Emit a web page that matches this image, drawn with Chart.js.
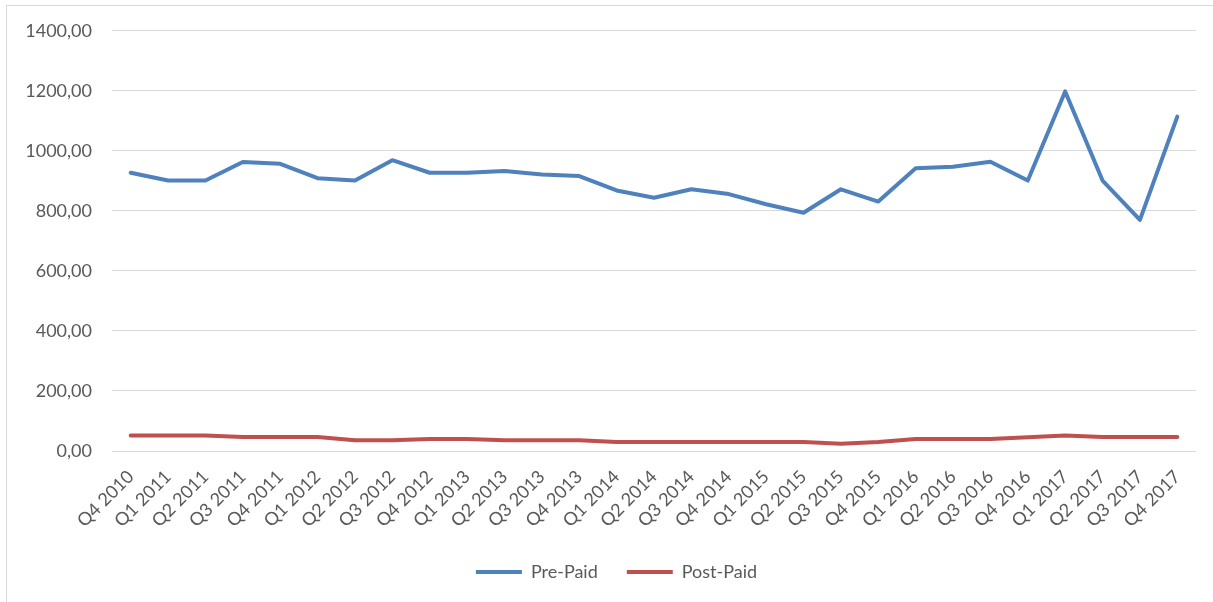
<!DOCTYPE html>
<html>
<head>
<meta charset="utf-8">
<script src="https://cdn.jsdelivr.net/npm/chart.js@4"></script>
<style>
  html, body { margin: 0; padding: 0; background: #ffffff; }
  #wrap { position: relative; width: 1213px; height: 602px; }
  #frame { position: absolute; left: 6px; top: 5px; width: 1220px; height: 610px; border-left: 1px solid #D9D9D9; border-top: 1px solid #D9D9D9; box-sizing: border-box; pointer-events: none; }
  canvas { position: absolute; left: 0; top: 0; }
</style>
</head>
<body>
<div id="wrap">
  <canvas id="c" width="1213" height="602"></canvas>
  <div id="frame"></div>
</div>
<script>
const categories = [
  "Q4 2010","Q1 2011","Q2 2011","Q3 2011","Q4 2011","Q1 2012","Q2 2012","Q3 2012","Q4 2012",
  "Q1 2013","Q2 2013","Q3 2013","Q4 2013","Q1 2014","Q2 2014","Q3 2014","Q4 2014",
  "Q1 2015","Q2 2015","Q3 2015","Q4 2015","Q1 2016","Q2 2016","Q3 2016","Q4 2016",
  "Q1 2017","Q2 2017","Q3 2017","Q4 2017"
];
const prePaid = [
  927, 901, 901, 963, 957, 909, 901, 969, 927,
  927, 933, 921, 916, 868, 844, 872, 856,
  822, 794, 872, 831, 942, 947, 964, 901,
  1198, 901, 770, 1114
];
const postPaid = [
  52, 52, 52, 47, 47, 47, 36, 36, 40,
  40, 36, 36, 36, 30, 30, 30, 30,
  30, 30, 24, 30, 40, 40, 40, 46,
  52, 47, 47, 47
];
const yTicks = [0, 200, 400, 600, 800, 1000, 1200, 1400];

const FONT = "Lato, 'Open Sans', sans-serif";
const TXT = "#595959";

const legendShift = {
  id: 'legendShift',
  afterLayout(chart) {
    if (chart.legend) { chart.legend.left = 37; }
  }
};

new Chart(document.getElementById('c'), {
  type: 'line',
  data: {
    labels: categories,
    datasets: [
      {
        label: 'Pre-Paid',
        data: prePaid,
        borderColor: '#4F81BD',
        backgroundColor: '#4F81BD',
        borderWidth: 4,
        borderCapStyle: 'round',
        borderJoinStyle: 'round',
        pointRadius: 0,
        pointHoverRadius: 0,
        tension: 0,
        fill: false
      },
      {
        label: 'Post-Paid',
        data: postPaid,
        borderColor: '#C0504D',
        backgroundColor: '#C0504D',
        borderWidth: 4,
        borderCapStyle: 'round',
        borderJoinStyle: 'round',
        pointRadius: 0,
        pointHoverRadius: 0,
        tension: 0,
        fill: false
      }
    ]
  },
  plugins: [legendShift],
  options: {
    responsive: false,
    animation: false,
    devicePixelRatio: 1,
    layout: { padding: { left: 0, right: 17, top: 30, bottom: 11 } },
    plugins: {
      tooltip: { enabled: false },
      legend: {
        position: 'bottom',
        labels: {
          usePointStyle: true,
          pointStyle: 'line',
          pointStyleWidth: 46,
          padding: 29,
          color: TXT,
          font: { family: FONT, size: 18 }
        }
      }
    },
    scales: {
      x: {
        offset: true,
        grid: { display: false, drawTicks: false },
        border: { display: false },
        ticks: {
          autoSkip: false,
          maxRotation: 45,
          minRotation: 45,
          padding: 15,
          color: TXT,
          font: { family: FONT, size: 18 }
        },
        afterFit: (s) => { s.height = 83; }
      },
      y: {
        min: 0,
        max: 1400,
        afterBuildTicks: (s) => { s.ticks = yTicks.map(v => ({ value: v })); },
        grid: { color: '#D9D9D9', lineWidth: 1, drawTicks: false },
        border: { display: false },
        ticks: {
          padding: 20,
          color: TXT,
          font: { family: FONT, size: 18 },
          callback: (v) => Number(v).toFixed(2).replace('.', ',')
        },
        afterFit: (s) => { s.width = 112; }
      }
    }
  }
});
</script>
</body>
</html>
